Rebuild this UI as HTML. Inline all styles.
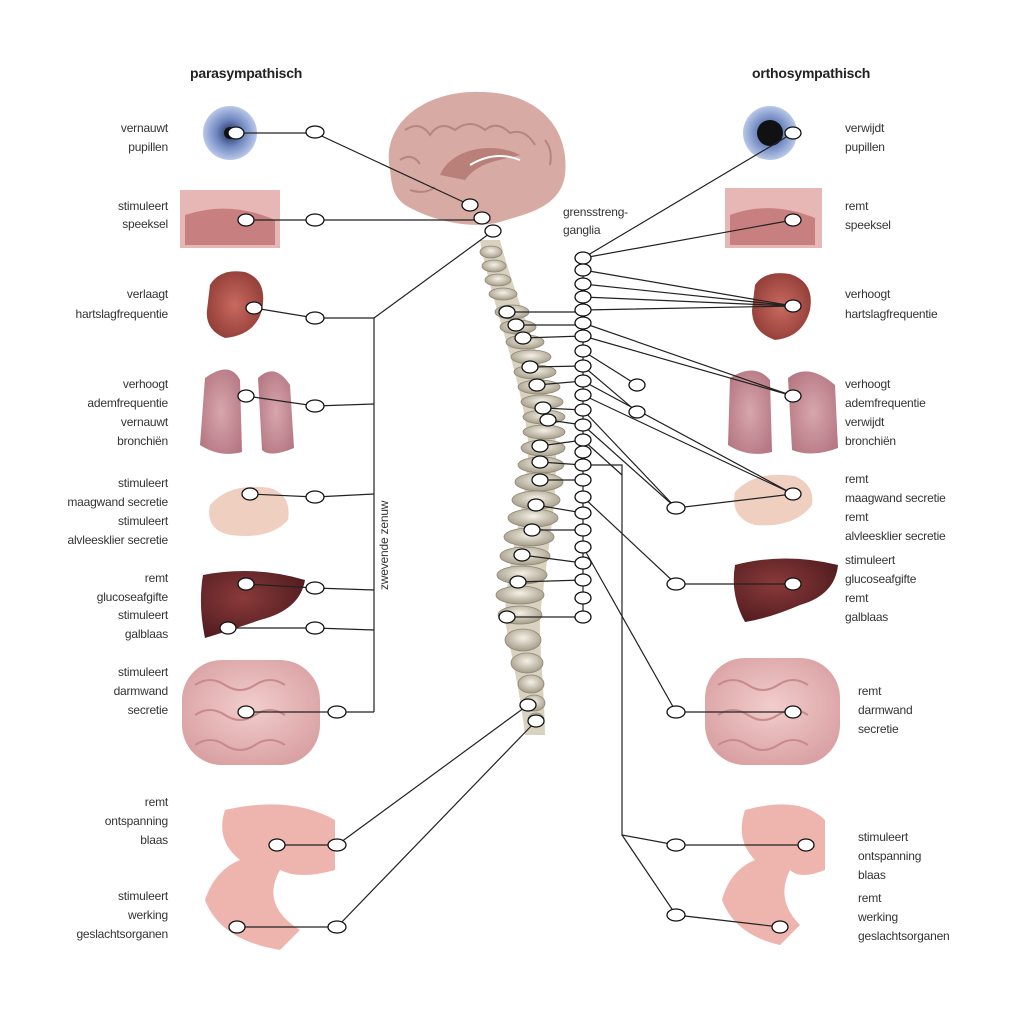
<!DOCTYPE html>
<html><head><meta charset="utf-8"><style>
html,body{margin:0;padding:0;background:#fff;}
svg{display:block;}
text{font-family:"Liberation Sans",sans-serif;font-size:12px;fill:#333;letter-spacing:-0.2px;}
.l{text-anchor:end;}
.h{font-weight:bold;font-size:14px;fill:#222;}
</style></head><body>
<svg width="1024" height="1024" viewBox="0 0 1024 1024" xmlns="http://www.w3.org/2000/svg">
<defs>
<radialGradient id="eye" cx="50%" cy="50%" r="50%"><stop offset="0" stop-color="#1a2a50"/><stop offset="0.5" stop-color="#6f86c0"/><stop offset="1" stop-color="#b8c8e8"/></radialGradient>
<radialGradient id="pink" cx="50%" cy="45%" r="60%"><stop offset="0" stop-color="#f2cdcc"/><stop offset="1" stop-color="#d9a0a2"/></radialGradient>
<radialGradient id="lung" cx="50%" cy="50%" r="60%"><stop offset="0" stop-color="#d8a6ac"/><stop offset="1" stop-color="#b57884"/></radialGradient>
<radialGradient id="heart" cx="50%" cy="50%" r="60%"><stop offset="0" stop-color="#c96a60"/><stop offset="1" stop-color="#8e3a35"/></radialGradient>
<radialGradient id="liver" cx="40%" cy="40%" r="70%"><stop offset="0" stop-color="#8a3a3a"/><stop offset="1" stop-color="#4e1a1e"/></radialGradient>
<radialGradient id="vert" cx="50%" cy="40%" r="60%"><stop offset="0" stop-color="#f5f1e6"/><stop offset="1" stop-color="#a49c88"/></radialGradient>
</defs>

<text class="h" x="190" y="78">parasympathisch</text>
<text class="h" x="752" y="78">orthosympathisch</text>

<!-- brain -->
<path d="M390,170 C380,120 430,90 480,92 C540,92 570,130 565,175 C560,210 520,215 500,222 C470,230 430,220 405,205 C392,195 392,185 390,170 Z" fill="#d7aaa4"/>
<g stroke="#b78580" stroke-width="2" fill="none">
<path d="M405,130 q15,-10 25,5 q10,-15 25,-5 q15,-12 30,0 q12,-10 25,3 q15,-5 25,12"/>
<path d="M400,160 q12,-8 20,4 M545,140 q8,10 5,25 M410,190 q15,5 25,-3"/>
</g>
<path d="M440,175 C450,150 490,140 520,155 C505,160 480,160 465,180 Z" fill="#b9807a"/>
<path d="M470,165 q25,-15 50,-5" stroke="#fff" stroke-width="2" fill="none"/>
<!-- spine -->
<path d="M480,240 L500,240 C515,300 545,360 555,430 C560,500 545,560 540,620 C540,660 545,700 545,735 L525,735 C520,690 510,650 505,620 C505,560 530,500 528,440 C520,370 490,300 480,240 Z" fill="#d9d2c0"/>
<g fill="url(#vert)" stroke="#8f8774" stroke-width="0.8">
<ellipse cx="491" cy="252" rx="11" ry="6"/><ellipse cx="494" cy="266" rx="12" ry="6"/><ellipse cx="498" cy="280" rx="13" ry="6"/><ellipse cx="503" cy="294" rx="14" ry="6"/>
<ellipse cx="512" cy="312" rx="17" ry="7"/><ellipse cx="518" cy="327" rx="18" ry="7"/><ellipse cx="525" cy="342" rx="19" ry="7"/><ellipse cx="531" cy="357" rx="20" ry="7"/>
<ellipse cx="535" cy="372" rx="21" ry="7"/><ellipse cx="539" cy="387" rx="21" ry="7"/><ellipse cx="542" cy="402" rx="21" ry="7"/><ellipse cx="544" cy="417" rx="21" ry="7"/>
<ellipse cx="544" cy="432" rx="21" ry="7"/><ellipse cx="543" cy="448" rx="22" ry="8"/><ellipse cx="541" cy="465" rx="23" ry="8"/><ellipse cx="539" cy="482" rx="24" ry="9"/>
<ellipse cx="536" cy="500" rx="24" ry="9"/><ellipse cx="533" cy="518" rx="25" ry="9"/><ellipse cx="529" cy="537" rx="25" ry="9"/><ellipse cx="525" cy="556" rx="25" ry="9"/>
<ellipse cx="522" cy="575" rx="25" ry="9"/><ellipse cx="520" cy="595" rx="24" ry="9"/><ellipse cx="520" cy="615" rx="22" ry="9"/>
<ellipse cx="523" cy="640" rx="18" ry="11"/><ellipse cx="527" cy="663" rx="16" ry="10"/><ellipse cx="531" cy="684" rx="13" ry="9"/><ellipse cx="534" cy="703" rx="11" ry="8"/><ellipse cx="536" cy="720" rx="8" ry="7"/>
</g>

<!-- left organs -->
<circle cx="230" cy="133" r="27" fill="url(#eye)"/><circle cx="230" cy="133" r="6" fill="#111"/>
<rect x="180" y="190" width="100" height="58" fill="#e6b7b4"/><path d="M185,215 Q230,200 275,220 L275,245 L185,245Z" fill="#c77f7f"/>
<path d="M210,285 Q220,268 245,272 Q268,280 262,310 Q255,335 225,338 Q205,330 207,310Z" fill="url(#heart)"/>
<path d="M205,378 Q230,360 240,380 L242,452 Q220,458 200,445Z" fill="url(#lung)"/><path d="M258,378 Q275,362 290,385 L294,448 Q270,458 262,450Z" fill="url(#lung)"/>
<path d="M210,505 Q230,482 270,488 Q292,495 288,520 Q270,540 230,535 Q205,530 210,505Z" fill="#efcfc0"/>
<path d="M203,575 Q255,565 305,580 Q300,610 260,620 Q225,632 205,638 Q198,605 203,575Z" fill="url(#liver)"/>
<rect x="182" y="660" width="138" height="105" rx="40" fill="url(#pink)"/>
<g stroke="#c98a8c" stroke-width="2" fill="none"><path d="M195,685 q15,-10 30,0 q15,10 30,0 q15,-10 30,0 M195,715 q15,-10 30,0 q15,10 30,0 q15,-10 30,0 M195,745 q15,-10 30,0 q15,10 30,0 q15,-10 30,0"/></g>
<path d="M225,810 Q290,795 335,820 L335,870 Q300,880 280,870 Q260,905 300,930 L280,950 Q220,940 205,900 Q215,870 240,860 Q215,840 225,810Z" fill="#eeb4ae"/>

<!-- right organs -->
<circle cx="770" cy="133" r="27" fill="url(#eye)"/><circle cx="770" cy="133" r="13" fill="#111"/>
<rect x="725" y="188" width="97" height="60" fill="#e6b7b4"/><path d="M730,215 Q770,200 815,218 L815,245 L730,245Z" fill="#c77f7f"/>
<path d="M755,285 Q765,270 790,274 Q815,282 810,310 Q803,337 775,340 Q752,332 752,310Z" fill="url(#heart)"/>
<path d="M730,378 Q755,362 770,380 L772,452 Q748,458 728,445Z" fill="url(#lung)"/><path d="M788,378 Q808,362 835,385 L838,448 Q812,458 792,450Z" fill="url(#lung)"/>
<path d="M735,492 Q755,470 795,476 Q815,485 812,505 Q795,528 755,525 Q730,518 735,492Z" fill="#efcfc0"/>
<path d="M735,565 Q785,552 838,565 Q835,595 800,605 Q770,618 745,622 Q730,595 735,565Z" fill="url(#liver)"/>
<rect x="705" y="658" width="135" height="107" rx="40" fill="url(#pink)"/>
<g stroke="#c98a8c" stroke-width="2" fill="none"><path d="M718,685 q15,-10 30,0 q15,10 30,0 q15,-10 30,0 M718,715 q15,-10 30,0 q15,10 30,0 q15,-10 30,0 M718,745 q15,-10 30,0 q15,10 30,0 q15,-10 30,0"/></g>
<path d="M745,810 Q800,795 825,820 L825,870 Q800,880 790,870 Q775,900 800,925 L780,945 Q735,935 722,900 Q730,870 755,860 Q735,840 745,810Z" fill="#eeb4ae"/>

<!-- lines -->
<g stroke="#222" stroke-width="1.2" fill="none">
<path d="M236,133 H315 L470,205"/>
<path d="M246,220 H482"/>
<path d="M493,231 L374,318"/>
<path d="M374,318 V712"/>
<path d="M254,308 L315,318 H374"/>
<path d="M246,396 L315,406 L374,404"/>
<path d="M250,494 L315,497 L374,494"/>
<path d="M246,584 L315,588 L374,590"/>
<path d="M228,628 H315 L374,630"/>
<path d="M246,712 H374"/>
<path d="M277,845 H337 L528,705"/>
<path d="M237,927 H337 L536,721"/>
<path d="M507,312 H583 M516,325 H583 M523,338 L583,336 M530,367 L583,366 M537,385 L583,381 M543,408 L583,410 M548,420 L583,425 M540,446 L583,440 M540,462 L583,465 M540,480 L583,480 M536,505 L583,513 M532,530 L583,530 M522,555 L583,563 M518,582 L583,580 M507,617 H583"/>
<path d="M583,258 V617"/>
<path d="M583,258 L793,133"/>
<path d="M583,258 L793,220"/>
<path d="M583,270 L793,306 M583,284 L793,306 M583,297 L793,306 M583,310 L793,306"/>
<path d="M583,323 L793,396 M583,336 L793,396 M583,351 L637,385 M583,366 L637,412"/>
<path d="M583,381 L793,494 M583,395 L793,494 M583,410 L676,508 M583,425 L676,508 L793,494"/>
<path d="M583,497 L676,584 H793"/>
<path d="M583,547 L676,712 H793"/>
<path d="M583,465 H622 V835 L676,845 H806"/>
<path d="M622,835 L676,915 L780,927"/>
<path d="M583,440 L622,475"/>
</g>

<!-- nodes -->
<g fill="#fff" stroke="#111" stroke-width="1.3">
<ellipse cx="236" cy="133" rx="8" ry="6"/><ellipse cx="315" cy="132" rx="9" ry="6"/>
<ellipse cx="470" cy="205" rx="8" ry="6"/><ellipse cx="482" cy="218" rx="8" ry="6"/><ellipse cx="493" cy="231" rx="8" ry="6"/>
<ellipse cx="246" cy="220" rx="8" ry="6"/><ellipse cx="315" cy="220" rx="9" ry="6"/>
<ellipse cx="254" cy="308" rx="8" ry="6"/><ellipse cx="315" cy="318" rx="9" ry="6"/>
<ellipse cx="246" cy="396" rx="8" ry="6"/><ellipse cx="315" cy="406" rx="9" ry="6"/>
<ellipse cx="250" cy="494" rx="8" ry="6"/><ellipse cx="315" cy="497" rx="9" ry="6"/>
<ellipse cx="246" cy="584" rx="8" ry="6"/><ellipse cx="315" cy="588" rx="9" ry="6"/>
<ellipse cx="228" cy="628" rx="8" ry="6"/><ellipse cx="315" cy="628" rx="9" ry="6"/>
<ellipse cx="246" cy="712" rx="8" ry="6"/><ellipse cx="337" cy="712" rx="9" ry="6"/>
<ellipse cx="277" cy="845" rx="8" ry="6"/><ellipse cx="337" cy="845" rx="9" ry="6"/>
<ellipse cx="237" cy="927" rx="8" ry="6"/><ellipse cx="337" cy="927" rx="9" ry="6"/>
<ellipse cx="528" cy="705" rx="8" ry="6"/><ellipse cx="536" cy="721" rx="8" ry="6"/>
<ellipse cx="507" cy="312" rx="8" ry="6"/><ellipse cx="516" cy="325" rx="8" ry="6"/><ellipse cx="523" cy="338" rx="8" ry="6"/><ellipse cx="530" cy="367" rx="8" ry="6"/><ellipse cx="537" cy="385" rx="8" ry="6"/><ellipse cx="543" cy="408" rx="8" ry="6"/><ellipse cx="548" cy="420" rx="8" ry="6"/><ellipse cx="540" cy="446" rx="8" ry="6"/><ellipse cx="540" cy="462" rx="8" ry="6"/><ellipse cx="540" cy="480" rx="8" ry="6"/><ellipse cx="536" cy="505" rx="8" ry="6"/><ellipse cx="532" cy="530" rx="8" ry="6"/><ellipse cx="522" cy="555" rx="8" ry="6"/><ellipse cx="518" cy="582" rx="8" ry="6"/><ellipse cx="507" cy="617" rx="8" ry="6"/>
<ellipse cx="583" cy="258" rx="8" ry="6"/><ellipse cx="583" cy="270" rx="8" ry="6"/><ellipse cx="583" cy="284" rx="8" ry="6"/><ellipse cx="583" cy="297" rx="8" ry="6"/><ellipse cx="583" cy="310" rx="8" ry="6"/><ellipse cx="583" cy="323" rx="8" ry="6"/><ellipse cx="583" cy="336" rx="8" ry="6"/><ellipse cx="583" cy="351" rx="8" ry="6"/><ellipse cx="583" cy="366" rx="8" ry="6"/><ellipse cx="583" cy="381" rx="8" ry="6"/><ellipse cx="583" cy="395" rx="8" ry="6"/><ellipse cx="583" cy="410" rx="8" ry="6"/><ellipse cx="583" cy="425" rx="8" ry="6"/><ellipse cx="583" cy="440" rx="8" ry="6"/><ellipse cx="583" cy="452" rx="8" ry="6"/><ellipse cx="583" cy="465" rx="8" ry="6"/><ellipse cx="583" cy="480" rx="8" ry="6"/><ellipse cx="583" cy="497" rx="8" ry="6"/><ellipse cx="583" cy="513" rx="8" ry="6"/><ellipse cx="583" cy="530" rx="8" ry="6"/><ellipse cx="583" cy="547" rx="8" ry="6"/><ellipse cx="583" cy="563" rx="8" ry="6"/><ellipse cx="583" cy="580" rx="8" ry="6"/><ellipse cx="583" cy="598" rx="8" ry="6"/><ellipse cx="583" cy="617" rx="8" ry="6"/>
<ellipse cx="793" cy="133" rx="8" ry="6"/><ellipse cx="793" cy="220" rx="8" ry="6"/><ellipse cx="793" cy="306" rx="8" ry="6"/><ellipse cx="793" cy="396" rx="8" ry="6"/>
<ellipse cx="637" cy="385" rx="8" ry="6"/><ellipse cx="637" cy="412" rx="8" ry="6"/>
<ellipse cx="793" cy="494" rx="8" ry="6"/><ellipse cx="676" cy="508" rx="9" ry="6"/>
<ellipse cx="793" cy="584" rx="8" ry="6"/><ellipse cx="676" cy="584" rx="9" ry="6"/>
<ellipse cx="793" cy="712" rx="8" ry="6"/><ellipse cx="676" cy="712" rx="9" ry="6"/>
<ellipse cx="806" cy="845" rx="8" ry="6"/><ellipse cx="676" cy="845" rx="9" ry="6"/>
<ellipse cx="780" cy="927" rx="8" ry="6"/><ellipse cx="676" cy="915" rx="9" ry="6"/>
</g>

<text x="563" y="216">grensstreng-</text><text x="563" y="234">ganglia</text>
<text transform="translate(388,590) rotate(-90)">zwevende zenuw</text>

<g>
<text class="l" x="168" y="132">vernauwt</text><text class="l" x="168" y="151">pupillen</text>
<text class="l" x="168" y="210">stimuleert</text><text class="l" x="168" y="228">speeksel</text>
<text class="l" x="168" y="298">verlaagt</text><text class="l" x="168" y="318">hartslagfrequentie</text>
<text class="l" x="168" y="388">verhoogt</text><text class="l" x="168" y="407">ademfrequentie</text><text class="l" x="168" y="426">vernauwt</text><text class="l" x="168" y="445">bronchiën</text>
<text class="l" x="168" y="487">stimuleert</text><text class="l" x="168" y="506">maagwand secretie</text><text class="l" x="168" y="525">stimuleert</text><text class="l" x="168" y="544">alvleesklier secretie</text>
<text class="l" x="168" y="582">remt</text><text class="l" x="168" y="601">glucoseafgifte</text><text class="l" x="168" y="619">stimuleert</text><text class="l" x="168" y="638">galblaas</text>
<text class="l" x="168" y="676">stimuleert</text><text class="l" x="168" y="695">darmwand</text><text class="l" x="168" y="714">secretie</text>
<text class="l" x="168" y="806">remt</text><text class="l" x="168" y="825">ontspanning</text><text class="l" x="168" y="844">blaas</text>
<text class="l" x="168" y="900">stimuleert</text><text class="l" x="168" y="919">werking</text><text class="l" x="168" y="938">geslachtsorganen</text>
</g>
<g>
<text x="845" y="132">verwijdt</text><text x="845" y="151">pupillen</text>
<text x="845" y="210">remt</text><text x="845" y="229">speeksel</text>
<text x="845" y="298">verhoogt</text><text x="845" y="318">hartslagfrequentie</text>
<text x="845" y="388">verhoogt</text><text x="845" y="407">ademfrequentie</text><text x="845" y="426">verwijdt</text><text x="845" y="445">bronchiën</text>
<text x="845" y="483">remt</text><text x="845" y="502">maagwand secretie</text><text x="845" y="521">remt</text><text x="845" y="540">alvleesklier secretie</text>
<text x="845" y="564">stimuleert</text><text x="845" y="583">glucoseafgifte</text><text x="845" y="602">remt</text><text x="845" y="621">galblaas</text>
<text x="858" y="695">remt</text><text x="858" y="714">darmwand</text><text x="858" y="733">secretie</text>
<text x="858" y="841">stimuleert</text><text x="858" y="860">ontspanning</text><text x="858" y="879">blaas</text>
<text x="858" y="902">remt</text><text x="858" y="921">werking</text><text x="858" y="940">geslachtsorganen</text>
</g>
</svg>
</body></html>
